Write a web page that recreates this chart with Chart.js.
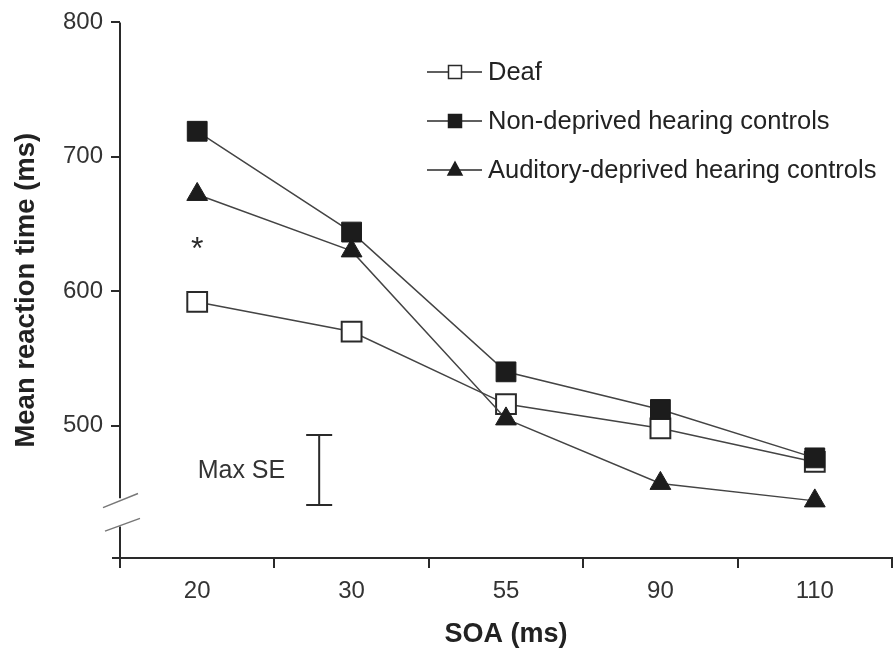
<!DOCTYPE html>
<html>
<head>
<meta charset="utf-8">
<script src="https://cdn.jsdelivr.net/npm/chart.js@4/dist/chart.umd.min.js"></script>
<style>
  html, body { margin: 0; padding: 0; background: #fff; }
</style>
</head>
<body>
<canvas id="rtChart" width="896" height="653"></canvas>
<script>
// data
const soaLabels = ['20', '30', '55', '90', '110'];
const deafRT = [592, 570, 516, 498, 473];
const nonDeprivedRT = [719, 644, 540, 512, 476];
const audDeprivedRT = [672, 630, 505, 457, 444];
const yTickValues = [500, 600, 700, 800];
const maxSeRange = [441, 493];
const starValue = 635;

const ink = '#2a2a2a';
const font = 'Arial, "Liberation Sans", Helvetica, sans-serif';

// axis break, x axis stub, legend, asterisk and Max SE bar
const decor = {
  id: 'decor',
  afterDraw(chart) {
    const ctx = chart.ctx;
    const x = chart.scales.x, y = chart.scales.y;
    const area = chart.chartArea;
    ctx.save();

    // y axis line with a break
    ctx.strokeStyle = ink;
    ctx.lineWidth = 2;
    ctx.beginPath();
    ctx.moveTo(area.left, area.top);
    ctx.lineTo(area.left, y.getPixelForValue(446));
    ctx.moveTo(area.left, y.getPixelForValue(425));
    ctx.lineTo(area.left, area.bottom);
    ctx.moveTo(area.left - 8, area.bottom);
    ctx.lineTo(area.left, area.bottom);
    ctx.stroke();

    ctx.strokeStyle = '#777';
    ctx.lineWidth = 1.5;
    ctx.beginPath();
    ctx.moveTo(area.left - 17, y.getPixelForValue(439));
    ctx.lineTo(area.left + 18, y.getPixelForValue(449.5));
    ctx.moveTo(area.left - 15, y.getPixelForValue(421.5));
    ctx.lineTo(area.left + 20, y.getPixelForValue(431));
    ctx.stroke();

    // asterisk
    ctx.fillStyle = ink;
    ctx.font = '32px ' + font;
    ctx.textAlign = 'center';
    ctx.textBaseline = 'middle';
    ctx.fillText('*', x.getPixelForValue(0), y.getPixelForValue(starValue) + 6);

    // Max SE bar
    const bx = x.getPixelForValue(0.79);
    const yLo = y.getPixelForValue(maxSeRange[0]);
    const yHi = y.getPixelForValue(maxSeRange[1]);
    ctx.strokeStyle = ink;
    ctx.lineWidth = 2;
    ctx.beginPath();
    ctx.moveTo(bx, yLo); ctx.lineTo(bx, yHi);
    ctx.moveTo(bx - 13, yLo); ctx.lineTo(bx + 13, yLo);
    ctx.moveTo(bx - 13, yHi); ctx.lineTo(bx + 13, yHi);
    ctx.stroke();
    ctx.fillStyle = '#333';
    ctx.font = '25px ' + font;
    ctx.textAlign = 'right';
    ctx.fillText('Max SE', bx - 34, (yLo + yHi) / 2 + 1);

    // legend
    const rows = [72, 121, 170];
    chart.data.datasets.forEach((ds, i) => {
      const ly = rows[i];
      ctx.strokeStyle = ink;
      ctx.lineWidth = 1.5;
      ctx.beginPath();
      ctx.moveTo(427, ly); ctx.lineTo(482, ly);
      ctx.stroke();
      ctx.fillStyle = ds.pointBackgroundColor;
      ctx.strokeStyle = ds.pointBorderColor;
      ctx.lineWidth = 1.5;
      ctx.beginPath();
      if (ds.pointStyle === 'triangle') {
        ctx.moveTo(455, ly - 8); ctx.lineTo(462, ly + 5); ctx.lineTo(448, ly + 5);
        ctx.closePath();
      } else {
        ctx.rect(448.5, ly - 6.5, 13, 13);
      }
      ctx.fill(); ctx.stroke();
      ctx.fillStyle = '#222';
      ctx.font = '25.5px ' + font;
      ctx.textAlign = 'left';
      ctx.textBaseline = 'middle';
      ctx.fillText(ds.label, 488, ly + 1);
    });

    ctx.restore();
  }
};

const ctx = document.getElementById('rtChart').getContext('2d');
new Chart(ctx, {
  type: 'line',
  data: {
    labels: soaLabels,
    datasets: [
      {
        label: 'Deaf',
        data: deafRT,
        order: 3,
        borderColor: '#444',
        borderWidth: 1.5,
        pointStyle: 'rect',
        pointRadius: 14,
        pointBackgroundColor: '#ffffff',
        pointBorderColor: ink,
        pointBorderWidth: 2
      },
      {
        label: 'Non-deprived hearing controls',
        data: nonDeprivedRT,
        order: 2,
        borderColor: '#444',
        borderWidth: 1.5,
        pointStyle: 'rect',
        pointRadius: 14,
        pointBackgroundColor: '#1c1c1c',
        pointBorderColor: '#1c1c1c',
        pointBorderWidth: 1
      },
      {
        label: 'Auditory-deprived hearing controls',
        data: audDeprivedRT,
        order: 1,
        borderColor: '#444',
        borderWidth: 1.5,
        pointStyle: 'triangle',
        pointRadius: 12,
        pointBackgroundColor: '#1c1c1c',
        pointBorderColor: '#1c1c1c',
        pointBorderWidth: 1
      }
    ]
  },
  options: {
    responsive: false,
    animation: false,
    layout: { autoPadding: false, padding: { top: 20, right: 4, left: 0, bottom: 0 } },
    plugins: {
      legend: { display: false },
      tooltip: { enabled: false }
    },
    scales: {
      x: {
        type: 'category',
        offset: true,
        afterFit: (s) => { s.height = 95; },
        grid: { offset: true, drawOnChartArea: false, tickLength: 10, color: ink, lineWidth: 2 },
        border: { display: true, color: ink, width: 2 },
        ticks: { color: '#333', font: { family: font, size: 24 }, padding: 9, maxRotation: 0 },
        title: {
          display: true,
          text: 'SOA (ms)',
          color: '#222',
          font: { family: font, size: 27, weight: 'bold' },
          padding: { top: 0, bottom: 2 }
        }
      },
      y: {
        min: 401.5,
        max: 800,
        afterFit: (s) => { s.width = 120; },
        afterBuildTicks: (axis) => { axis.ticks = yTickValues.map(v => ({ value: v })); },
        grid: { drawOnChartArea: false, tickLength: 9, color: ink, lineWidth: 2 },
        border: { display: false },
        ticks: { color: '#333', font: { family: font, size: 24 }, padding: 8 },
        title: {
          display: true,
          text: 'Mean reaction time (ms)',
          color: '#222',
          font: { family: font, size: 27.5, weight: 'bold' },
          padding: { top: 10, bottom: 0 }
        }
      }
    }
  },
  plugins: [decor]
});
</script>
</body>
</html>
